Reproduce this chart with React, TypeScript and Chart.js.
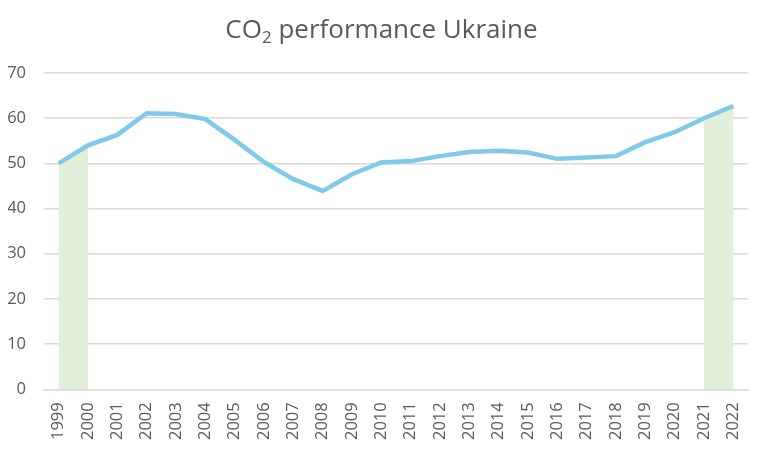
import React, { useEffect, useRef } from "react";
import { Chart, registerables } from "chart.js";

Chart.register(...registerables);

const years = [
  "1999", "2000", "2001", "2002", "2003", "2004", "2005", "2006", "2007", "2008",
  "2009", "2010", "2011", "2012", "2013", "2014", "2015", "2016", "2017", "2018",
  "2019", "2020", "2021", "2022",
];

const co2Performance = [
  50.0, 54.0, 56.3, 61.1, 60.9, 59.8, 55.2, 50.3, 46.5, 43.9,
  47.6, 50.2, 50.5, 51.6, 52.5, 52.8, 52.4, 51.0, 51.3, 51.6,
  54.7, 56.9, 60.0, 62.7,
];

// years that get the green band under the line
const highlightYears = ["1999", "2000", "2021", "2022"];

const FONT = "'Open Sans', sans-serif";

// title with a subscript 2 in CO2
const titlePlugin = {
  id: "co2Title",
  afterDraw(chart: Chart) {
    const ctx = chart.ctx;
    const big = `26px ${FONT}`;
    const small = `17px ${FONT}`;
    ctx.save();
    ctx.fillStyle = "#595959";
    ctx.textBaseline = "alphabetic";
    ctx.font = big;
    const w1 = ctx.measureText("CO").width;
    const w3 = ctx.measureText(" performance Ukraine").width;
    ctx.font = small;
    const w2 = ctx.measureText("2").width;
    let x = (chart.width - (w1 + w2 + w3)) / 2 - 2;
    const y = 38;
    ctx.font = big;
    ctx.fillText("CO", x, y);
    x += w1;
    ctx.font = small;
    ctx.fillText("2", x, y + 5);
    x += w2;
    ctx.font = big;
    ctx.fillText(" performance Ukraine", x, y);
    ctx.restore();
  },
};

export default function App() {
  const canvasRef = useRef<HTMLCanvasElement | null>(null);
  const chartRef = useRef<Chart | null>(null);

  useEffect(() => {
    if (!canvasRef.current) return;
    const ctx = canvasRef.current.getContext("2d");
    if (!ctx) return;
    if (chartRef.current) chartRef.current.destroy();

    const bandData = years.map((y, i) =>
      highlightYears.includes(y) ? co2Performance[i] : null
    );

    chartRef.current = new Chart(ctx, {
      type: "line",
      data: {
        labels: years,
        datasets: [
          {
            label: "CO2 performance",
            data: co2Performance,
            borderColor: "#7fcaea",
            borderWidth: 4.5,
            pointRadius: 0,
            tension: 0,
            fill: false,
            order: 0,
          },
          {
            label: "highlight",
            data: bandData,
            borderWidth: 0,
            borderColor: "rgba(0,0,0,0)",
            backgroundColor: "#e2efd9",
            pointRadius: 0,
            fill: "origin",
            spanGaps: false,
            order: 1,
          },
        ],
      },
      options: {
        responsive: false,
        animation: false,
        layout: { padding: { top: 73, right: 19, left: 4, bottom: 4 } },
        plugins: {
          legend: { display: false },
          title: { display: false },
          tooltip: { enabled: false },
        },
        scales: {
          x: {
            offset: true,
            grid: { display: false },
            border: { color: "#d9d9d9", width: 1.5 },
            afterFit(scale: any) {
              scale.paddingLeft = 0;
              scale.paddingRight = 0;
            },
            ticks: {
              color: "#595959",
              font: { family: FONT, size: 16.5 },
              maxRotation: 90,
              minRotation: 90,
              autoSkip: false,
              padding: 5,
            },
          },
          y: {
            min: 0,
            max: 70,
            grid: { color: "#d9d9d9", lineWidth: 1.5, drawTicks: false },
            border: { display: false },
            afterFit(scale: any) {
              scale.paddingTop = 0;
              scale.paddingBottom = 0;
              scale.width = 40;
            },
            ticks: {
              stepSize: 10,
              color: "#595959",
              font: { family: FONT, size: 16.5 },
              padding: 18,
            },
          },
        },
      },
      plugins: [titlePlugin],
    });

    return () => {
      if (chartRef.current) {
        chartRef.current.destroy();
        chartRef.current = null;
      }
    };
  }, []);

  return (
    <div style={{ width: 767, height: 449, margin: -8, background: "#fff" }}>
      <canvas ref={canvasRef} width={767} height={449} />
    </div>
  );
}
